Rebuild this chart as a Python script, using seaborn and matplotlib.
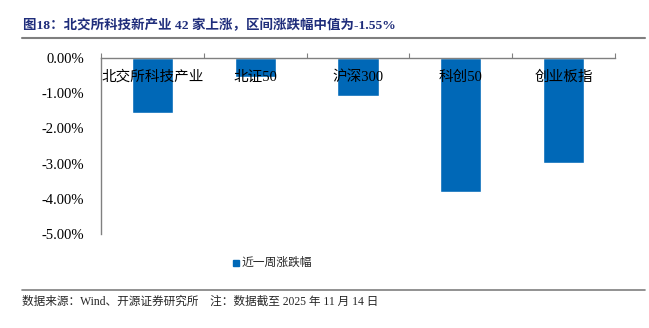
import matplotlib
matplotlib.use("Agg")
import matplotlib.pyplot as plt
import seaborn as sns
import pandas as pd
from matplotlib.patches import Rectangle
from matplotlib.lines import Line2D

categories = ["北交所科技产业", "北证50", "沪深300", "科创50", "创业板指"]
values = [-1.55, -0.55, -1.07, -3.82, -2.99]
yticks = [0, -1, -2, -3, -4, -5]
series_name = "近一周涨跌幅"
title = "图18：北交所科技新产业 42 家上涨，区间涨跌幅中值为-1.55%"
source = "数据来源：Wind、开源证券研究所　注：数据截至 2025 年 11 月 14 日"

sns.set_style("white")
FAM = ["Liberation Serif", "Noto Sans CJK SC"]
plt.rcParams["font.family"] = FAM
plt.rcParams["axes.unicode_minus"] = False

bar_color = "#0068B7"
df = pd.DataFrame({"cat": categories, "val": values})

fig = plt.figure(figsize=(6.49, 3.28), dpi=100)
ax = fig.add_axes([101/649, 1-234/328, (615-101)/649, (234-58)/328])
sns.barplot(data=df, x="cat", y="val", color=bar_color, width=0.4,
            saturation=1, ax=ax, legend=False)

ax.set_ylim(-5, 0)
ax.set_xlim(-0.5, len(categories)-0.5)
ax.set_yticks(yticks)
ax.set_yticklabels([f"{v:.2f}%" for v in yticks], fontsize=10.5, family=FAM)
ax.set_xlabel("")
ax.set_ylabel("")

for s in ["bottom", "right"]:
    ax.spines[s].set_visible(False)
for s in ["top", "left"]:
    ax.spines[s].set_color("#808080")
    ax.spines[s].set_linewidth(1.0)

ax.tick_params(axis="y", direction="in", length=3, color="#808080", pad=12, labelcolor="black")
ax.xaxis.set_ticks_position("top")
ax.set_xticks([i - 0.5 for i in range(len(categories)+1)])
ax.set_xticklabels([])
ax.tick_params(axis="x", direction="out", length=3.5, color="#808080")

for i, c in enumerate(categories):
    ax.text(i, 0.892, c, transform=ax.get_xaxis_transform(), ha="center", va="center",
            fontsize=10.5, family=FAM, color="black")

# title
fig.text(23/649, 1-25/328, title, fontsize=9.7, fontweight="bold", color="#1F2D7B",
         family=FAM, ha="left", va="center")
fig.add_artist(Line2D([22/649, 645/649], [1-38/328, 1-38/328], color="#7F7F7F", lw=1.5))

# legend
fig.add_artist(Rectangle((233/649, 1-266/328), 6/649, 6/328, color=bar_color,
                         transform=fig.transFigure))
fig.text(242/649, 1-263/328, series_name, fontsize=8.5, family=FAM, ha="left", va="center")

fig.add_artist(Line2D([22/649, 645/649], [1-290/328, 1-290/328], color="#7F7F7F", lw=1.2))
fig.text(22/649, 1-302/328, source, fontsize=8.4, family=FAM, ha="left", va="center")

fig.savefig("out.png", dpi=100)
